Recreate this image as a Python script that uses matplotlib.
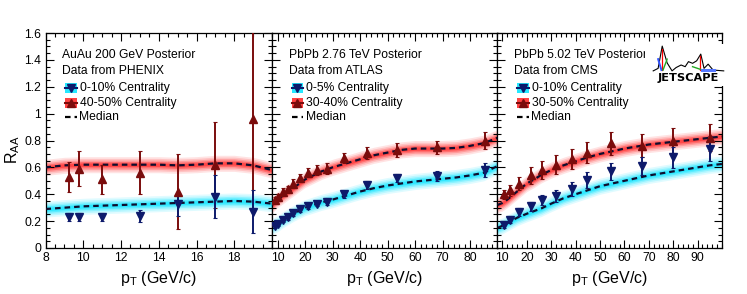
import numpy as np
import matplotlib
matplotlib.use("Agg")
import matplotlib.pyplot as plt
from matplotlib.patches import Rectangle
from matplotlib.ticker import MultipleLocator
from matplotlib.lines import Line2D

plt.rcParams['font.family'] = ['Liberation Sans', 'DejaVu Sans']

#AuAu 200 GeV, PHENIX
phenix_curve_pt = [8, 9, 10, 11, 12, 13, 14, 15, 16, 17, 18, 19, 20]
phenix_med_periph = [0.60, 0.615, 0.62, 0.62, 0.62, 0.62, 0.62, 0.615, 0.62, 0.63, 0.63, 0.615, 0.58]
phenix_med_central = [0.29, 0.30, 0.31, 0.315, 0.32, 0.325, 0.33, 0.335, 0.34, 0.345, 0.35, 0.345, 0.33]
phenix_pt = [9.25, 9.75, 11, 13, 15, 17, 19]
phenix_periph = [0.53, 0.59, 0.51, 0.56, 0.42, 0.62, 0.96]
phenix_periph_err = [0.11, 0.13, 0.11, 0.16, 0.28, 0.32, 0.66]
phenix_central = [0.23, 0.23, 0.23, 0.24, 0.33, 0.38, 0.27]
phenix_central_err = [0.03, 0.03, 0.03, 0.045, 0.09, 0.16, 0.16]

#PbPb 2.76 TeV, ATLAS
atlas_curve_pt = [8, 10, 12, 14, 16, 18, 20, 23, 26, 30, 35, 40, 45, 50, 55, 60, 65, 70, 75, 80, 85, 90]
atlas_med_periph = [0.32, 0.36, 0.39, 0.42, 0.45, 0.48, 0.51, 0.54, 0.57, 0.60, 0.63, 0.66, 0.69, 0.71,
                    0.73, 0.74, 0.74, 0.74, 0.745, 0.76, 0.78, 0.82]
atlas_med_central = [0.16, 0.18, 0.21, 0.235, 0.26, 0.28, 0.30, 0.32, 0.34, 0.36, 0.39, 0.42, 0.445, 0.465,
                     0.48, 0.495, 0.505, 0.515, 0.525, 0.54, 0.56, 0.61]
atlas_pt = [9.1, 10.3, 12.1, 13.9, 15.8, 18.2, 21.2, 24.3, 27.9, 34.0, 42.6, 53.5, 67.9, 85.5]
atlas_periph = [0.36, 0.38, 0.42, 0.44, 0.48, 0.52, 0.56, 0.58, 0.59, 0.67, 0.71, 0.73, 0.75, 0.80]
atlas_periph_err = [0.02, 0.02, 0.025, 0.025, 0.03, 0.03, 0.035, 0.04, 0.04, 0.04, 0.045, 0.05, 0.05, 0.06]
atlas_central = [0.164, 0.18, 0.21, 0.23, 0.26, 0.29, 0.31, 0.33, 0.345, 0.40, 0.47, 0.52, 0.535, 0.58]
atlas_central_err = [0.015, 0.015, 0.015, 0.02, 0.02, 0.02, 0.02, 0.02, 0.025, 0.025, 0.03, 0.03, 0.04, 0.05]

#PbPb 5.02 TeV, CMS
cms_curve_pt = [8, 10, 12, 14, 16, 18, 20, 23, 26, 30, 35, 40, 45, 50, 55, 60, 65, 70, 75, 80, 85, 90, 95, 100]
cms_med_periph = [0.32, 0.335, 0.36, 0.39, 0.42, 0.45, 0.48, 0.51, 0.545, 0.58, 0.615, 0.645, 0.675, 0.70,
                  0.72, 0.74, 0.755, 0.77, 0.78, 0.79, 0.80, 0.81, 0.82, 0.83]
cms_med_central = [0.15, 0.165, 0.185, 0.205, 0.225, 0.24, 0.255, 0.275, 0.295, 0.33, 0.37, 0.40, 0.43, 0.46,
                   0.48, 0.50, 0.52, 0.54, 0.555, 0.57, 0.585, 0.60, 0.615, 0.625]
cms_pt = [10.8, 13.2, 16.8, 21.6, 26.4, 32.0, 38.4, 44.8, 54.4, 67.2, 80.0, 95.0]
cms_periph = [0.40, 0.43, 0.48, 0.54, 0.58, 0.62, 0.66, 0.71, 0.78, 0.76, 0.80, 0.82]
cms_periph_err = [0.035, 0.04, 0.05, 0.06, 0.065, 0.07, 0.075, 0.08, 0.085, 0.085, 0.09, 0.1]
cms_central = [0.17, 0.21, 0.27, 0.31, 0.357, 0.387, 0.44, 0.506, 0.57, 0.61, 0.675, 0.74]
cms_central_err = [0.02, 0.025, 0.03, 0.035, 0.04, 0.045, 0.05, 0.06, 0.065, 0.07, 0.08, 0.09]

panels = [
    dict(title="AuAu 200 GeV Posterior", source="Data from PHENIX",
         lab_c="0-10% Centrality", lab_p="40-50% Centrality",
         cpt=phenix_curve_pt, mp=phenix_med_periph, mc=phenix_med_central,
         pt=phenix_pt, yp=phenix_periph, ep=phenix_periph_err, yc=phenix_central, ec=phenix_central_err,
         xlim=(8, 20), ticks=[8, 10, 12, 14, 16, 18], minor=0.5),
    dict(title="PbPb 2.76 TeV Posterior", source="Data from ATLAS",
         lab_c="0-5% Centrality", lab_p="30-40% Centrality",
         cpt=atlas_curve_pt, mp=atlas_med_periph, mc=atlas_med_central,
         pt=atlas_pt, yp=atlas_periph, ep=atlas_periph_err, yc=atlas_central, ec=atlas_central_err,
         xlim=(8, 90), ticks=[10, 20, 30, 40, 50, 60, 70, 80], minor=2),
    dict(title="PbPb 5.02 TeV Posterior", source="Data from CMS",
         lab_c="0-10% Centrality", lab_p="30-50% Centrality",
         cpt=cms_curve_pt, mp=cms_med_periph, mc=cms_med_central,
         pt=cms_pt, yp=cms_periph, ep=cms_periph_err, yc=cms_central, ec=cms_central_err,
         xlim=(8, 100), ticks=[10, 20, 30, 40, 50, 60, 70, 80, 90], minor=2),
]

W, H = 747, 294
red_band = "#ff2020"
cyan_band = "#00e4ff"
red_mk = "#7a0c0c"
blue_mk = "#0d1a6b"
med_col = "#0e0e2e"


def glow(ax, x, y, color):
    x = np.array(x)
    y = np.array(y)
    for w, a in [(0.06, 0.12), (0.047, 0.16), (0.035, 0.24), (0.024, 0.36), (0.013, 0.5)]:
        ax.fill_between(x, y - w, y + w, color=color, alpha=a, lw=0, zorder=1)


fig = plt.figure(figsize=(W / 100, H / 100), dpi=100)
edges = [45.5, 272, 497.5, 722]
top, bot = 33, 248

for i, p in enumerate(panels):
    x0, x1 = edges[i], edges[i + 1]
    ax = fig.add_axes([x0 / W, 1 - bot / H, (x1 - x0) / W, (bot - top) / H])
    wpx, hpx = x1 - x0, bot - top

    glow(ax, p["cpt"], p["mp"], red_band)
    glow(ax, p["cpt"], p["mc"], cyan_band)
    ax.plot(p["cpt"], p["mp"], color=med_col, ls=(0, (2.5, 1.8)), lw=1.6, zorder=3)
    ax.plot(p["cpt"], p["mc"], color=med_col, ls=(0, (2.5, 1.8)), lw=1.6, zorder=3)

    ax.errorbar(p["pt"], p["yp"], yerr=p["ep"], fmt="^", color=red_mk, ms=5.5,
                elinewidth=1.4, capsize=1.5, capthick=0.8, zorder=4)
    ax.errorbar(p["pt"], p["yc"], yerr=p["ec"], fmt="v", color=blue_mk, ms=5.5,
                elinewidth=1.4, capsize=1.5, capthick=0.8, zorder=4)

    ax.set_xlim(*p["xlim"])
    ax.set_ylim(0, 1.6)
    ax.set_xticks(p["ticks"])
    ax.xaxis.set_minor_locator(MultipleLocator(p["minor"]))
    ax.set_yticks(np.arange(0, 1.61, 0.2))
    ax.yaxis.set_minor_locator(MultipleLocator(0.05))
    ax.tick_params(which="both", direction="in", top=True, right=True, labelsize=8.7, pad=3)
    ax.tick_params(which="major", length=6, width=0.8)
    ax.tick_params(which="minor", length=3, width=0.8)
    for s in ax.spines.values():
        s.set_linewidth(0.9)
    if i == 0:
        ax.set_yticklabels(["0", "0.2", "0.4", "0.6", "0.8", "1", "1.2", "1.4", "1.6"])
    else:
        ax.set_yticklabels([])

    ax.set_xlabel(r"p$_\mathregular{T}$ (GeV/c)", fontsize=11.5)
    ax.xaxis.set_label_coords(0.5, -(279 - bot) / hpx)
    ax.xaxis.label.set_va("center")

    # text block and legend, offsets in pixels from the top-left corner
    def ac(dx, dy):
        return dx / wpx, 1 - dy / hpx

    ax.text(*ac(17, 22), p["title"], fontsize=8.7, va="center", ha="left", transform=ax.transAxes)
    ax.text(*ac(17, 37.7), p["source"], fontsize=8.7, va="center", ha="left", transform=ax.transAxes)
    for dy, col, mk, mcol, lab in [(55.3, cyan_band, "v", blue_mk, p["lab_c"]),
                                   (69.7, red_band, "^", red_mk, p["lab_p"])]:
        bx, by = ac(19.5, dy + 5)
        ax.add_patch(Rectangle((bx, by), 11.5 / wpx, 10 / hpx, transform=ax.transAxes,
                               facecolor=col, edgecolor="none", alpha=0.85, zorder=5))
        lx0, ly = ac(19.5, dy)
        lx1, _ = ac(31, dy)
        ax.add_line(Line2D([lx0, lx1], [ly, ly], color=mcol, lw=1.5, transform=ax.transAxes, zorder=6))
        ax.plot([(lx0 + lx1) / 2], [ly], marker=mk, color=mcol, ms=5.5, transform=ax.transAxes, zorder=6)
        ax.text(*ac(34, dy), lab, fontsize=8.7, va="center", ha="left", transform=ax.transAxes)
    lx0, ly = ac(19.5, 84.3)
    lx1, _ = ac(31, 84.3)
    ax.add_line(Line2D([lx0, lx1], [ly, ly], color="black", lw=1.6, ls=(0, (2.5, 1.8)),
                       transform=ax.transAxes, zorder=6))
    ax.text(*ac(34, 84.3), "Median", fontsize=8.7, va="center", ha="left", transform=ax.transAxes)

fig.text(13 / W, 1 - 150 / H, r"R$_\mathregular{AA}$", fontsize=11.5, rotation=90, ha="center", va="center")

# JETSCAPE logo
lg = fig.add_axes([645 / W, 1 - 86 / H, 82 / W, 42 / H])
lg.set_facecolor("white")
lg.set_xlim(0, 1)
lg.set_ylim(0, 1)
lg.axis("off")
lg.add_patch(Rectangle((0, 0), 1, 1, facecolor="white", edgecolor="none", zorder=0))
lg.plot([0.10, 0.16, 0.21, 0.27, 0.33, 0.38, 0.44, 0.49, 0.53, 0.58, 0.63, 0.68, 0.72, 0.77, 0.83, 0.96],
        [0.36, 0.42, 0.95, 0.55, 0.36, 0.44, 0.50, 0.46, 0.58, 0.54, 0.60, 0.76, 0.42, 0.52, 0.38, 0.36],
        color="black", lw=0.8, zorder=2)
lg.plot([0.21, 0.21], [0.38, 0.88], color="red", lw=0.9, zorder=3)
lg.plot([0.16, 0.20], [0.64, 0.38], color="#3355ff", lw=1.4, zorder=3)
lg.plot([0.22, 0.27], [0.38, 0.64], color="#22aa22", lw=1.0, zorder=3)
lg.plot([0.67, 0.67], [0.38, 0.72], color="red", lw=0.9, zorder=3)
lg.plot([0.58, 0.70], [0.46, 0.38], color="#22aa22", lw=1.0, zorder=3)
lg.plot([0.70, 0.84], [0.39, 0.39], color="#5577ff", lw=2.2, zorder=3)
lg.text(0.53, 0.19, "JETSCAPE", fontsize=8.2, fontweight="heavy", family="DejaVu Sans",
        ha="center", va="center")

fig.savefig("out.png", dpi=100)
